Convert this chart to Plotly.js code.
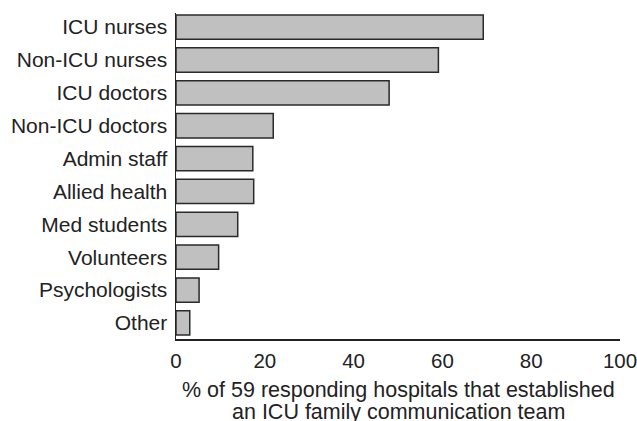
<!DOCTYPE html>
<html>
<head>
<meta charset="utf-8">
<script src="https://cdn.plot.ly/plotly-3.0.1.min.js"></script>
<style>html,body{margin:0;padding:0;background:#fff;}#chart{width:637px;height:421px;}</style>
</head>
<body>
<div id="chart"></div>
<script>
const categories = ["ICU nurses","Non-ICU nurses","ICU doctors","Non-ICU doctors","Admin staff","Allied health","Med students","Volunteers","Psychologists","Other"];
const percentValues = [69.2, 59.1, 48.0, 21.9, 17.3, 17.5, 13.9, 9.6, 5.2, 3.1];
const xTickValues = [0, 20, 40, 60, 80, 100];
const titleLines = ["% of 59 responding hospitals that established", "an ICU family communication team"];

const font = "Liberation Sans, Arial, Helvetica, sans-serif";
const trace = {
  type: "bar",
  orientation: "h",
  y: categories,
  x: percentValues,
  marker: {color: "#c0c0c0", line: {color: "#2a2a2a", width: 1.5}},
  width: 0.74,
  hoverinfo: "none"
};
const layout = {
  width: 637, height: 421,
  margin: {l: 176, r: 17, t: 13, b: 82},
  paper_bgcolor: "#fff", plot_bgcolor: "#fff",
  showlegend: false,
  font: {family: font, size: 20, color: "#222"},
  xaxis: {
    range: [0, 100], tickvals: xTickValues, ticks: "", showgrid: false, zeroline: false,
    showline: true, linecolor: "#222", linewidth: 1.5, ticklabeloverflow: "allow",
    tickfont: {family: font, size: 20.5, color: "#222"}, ticklabelstandoff: 3
  },
  yaxis: {
    type: "category", range: [9.49, -0.43], ticks: "", showgrid: false, zeroline: false,
    showline: true, linecolor: "#222", linewidth: 1.5,
    tickfont: {family: font, size: 21, color: "#222"}, ticklabelstandoff: 3
  },
  annotations: [
    {text: titleLines[0], xref: "paper", yref: "paper", x: 0.5, y: 0, yshift: -37, showarrow: false, xanchor: "center", yanchor: "top", font: {family: font, size: 21.5, color: "#222"}},
    {text: titleLines[1], xref: "paper", yref: "paper", x: 0.5, y: 0, yshift: -59, showarrow: false, xanchor: "center", yanchor: "top", font: {family: font, size: 21.5, color: "#222"}}
  ]
};
Plotly.newPlot("chart", [trace], layout, {staticPlot: true, displayModeBar: false});
</script>
</body>
</html>
